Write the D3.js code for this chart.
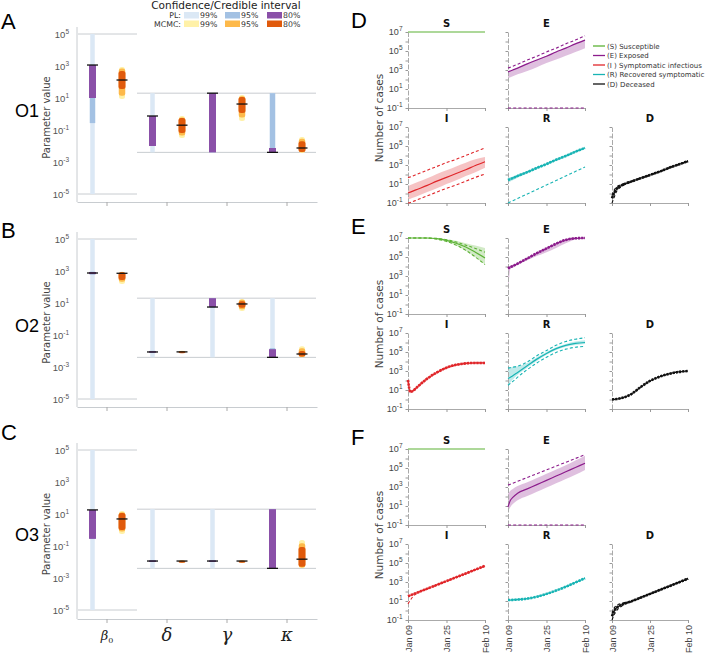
<!DOCTYPE html>
<html>
<head>
<meta charset="utf-8">
<script src="https://cdn.jsdelivr.net/npm/d3@7"></script>
<style>
body { margin: 0; background: #fff; }
svg { display: block; font-family: "DejaVu Sans", sans-serif; }
</style>
</head>
<body>
<svg id="chart" width="708" height="653"></svg>
<script>
// ---------------- parameter estimates (panels A-C) ----------------
var params = ["beta0", "delta", "gamma", "kappa"];
var boundsBeta = [1e-5, 1e5];
var boundsOther = [0.004, 20];

// O1
var o1_pl99 = [[1e-5, 1e5], [0.004, 20], [0.004, 20], [0.004, 20]];
var o1_pl95 = [[0.27, 1200], [0.01, 0.75], [0.004, 20], [0.004, 20]];
var o1_pl80 = [[10, 1150], [0.01, 0.75], [0.004, 20], [0.004, 0.0075]];
var o1_mle = [1150, 0.75, 20, 0.004];
var o1_mc99 = [[8.7, 870], [0.032, 0.75], [0.37, 15.5], [0.0037, 0.036]];
var o1_mc95 = [[14, 700], [0.045, 0.6], [0.6, 13], [0.004, 0.028]];
var o1_mc80 = [[36, 490], [0.065, 0.56], [1.15, 11.5], [0.0042, 0.02]];
var o1_med = [133, 0.2, 4.2, 0.0075];

// O2
var o2_pl99 = [[1e-5, 1e5], [0.004, 20], [0.004, 20], [0.004, 20]];
var o2_pl95 = [[600, 900], [0.0075, 0.0102], [5, 20], [0.004, 0.015]];
var o2_pl80 = [[640, 860], [0.0078, 0.0098], [5.6, 20], [0.004, 0.013]];
var o2_mle = [750, 0.0087, 5.6, 0.004];
var o2_mc99 = [[155, 900], [0.0075, 0.0105], [3.2, 18], [0.004, 0.02]];
var o2_mc95 = [[210, 870], [0.008, 0.01], [4, 16], [0.0042, 0.015]];
var o2_mc80 = [[275, 850], [0.0082, 0.0095], [5, 13], [0.0045, 0.01]];
var o2_med = [720, 0.0088, 8.7, 0.0065];

// O3
var o3_pl99 = [[1e-5, 1e5], [0.004, 20], [0.004, 20], [0.004, 20]];
var o3_pl95 = [[0.28, 18], [0.0102, 0.013], [0.0102, 0.013], [0.004, 20]];
var o3_pl80 = [[0.28, 18], [0.0105, 0.0126], [0.0105, 0.0126], [0.004, 20]];
var o3_mle = [18, 0.0115, 0.0115, 0.004];
var o3_mc99 = [[0.56, 15.5], [0.0106, 0.0124], [0.0106, 0.0124], [0.0042, 0.24]];
var o3_mc95 = [[0.8, 13], [0.0108, 0.0122], [0.0108, 0.0122], [0.0045, 0.15]];
var o3_mc80 = [[1.0, 11.5], [0.0109, 0.0121], [0.0109, 0.0121], [0.005, 0.087]];
var o3_med = [4.9, 0.0115, 0.0115, 0.015];

var yTicksParam = [1e5, 1e3, 1e1, 1e-1, 1e-3, 1e-5];

// ---------------- trajectories (panels D-F), log10 number of cases ----------------
var days = [0, 1, 2, 4, 8, 12, 16, 20, 24, 28, 32];

var o1_S_fit = [7.04, 7.04, 7.04, 7.04, 7.04, 7.04, 7.04, 7.04, 7.04, 7.03, 7.0];
var o1_E_fit = [2.8, 2.9, 3.0, 3.2, 3.65, 4.05, 4.45, 4.9, 5.3, 5.75, 6.15];
var o1_E_lo = [2.15, 2.25, 2.35, 2.55, 2.9, 3.3, 3.75, 4.1, 4.5, 4.9, 5.3];
var o1_E_hi = [2.85, 2.95, 3.05, 3.25, 3.7, 4.1, 4.5, 4.95, 5.35, 5.8, 6.2];
var o1_E_dhi = [3.2, 3.3, 3.4, 3.6, 4.05, 4.45, 4.9, 5.3, 5.75, 6.15, 6.6];
var o1_E_dlo = [-1, -1, -1, -1, -1, -1, -1, -1, -1, -1, -1];
var o1_I_fit = [0.05, 0.15, 0.25, 0.45, 0.85, 1.3, 1.7, 2.1, 2.5, 2.95, 3.35];
var o1_I_lo = [-0.65, -0.55, -0.45, -0.25, 0.15, 0.55, 1.0, 1.4, 1.85, 2.25, 2.7];
var o1_I_hi = [0.8, 0.9, 1.0, 1.2, 1.6, 2.05, 2.45, 2.85, 3.25, 3.6, 3.85];
var o1_I_dhi = [1.65, 1.75, 1.85, 2.05, 2.45, 2.85, 3.25, 3.6, 4.0, 4.4, 4.8];
var o1_I_dlo = [-1, -0.95, -0.85, -0.65, -0.25, 0.15, 0.55, 0.9, 1.3, 1.7, 2.05];
var o1_R_fit = [1.42, 1.52, 1.62, 1.85, 2.25, 2.7, 3.1, 3.55, 3.95, 4.4, 4.8];
var o1_R_lo = [1.15, 1.27, 1.4, 1.65, 2.1, 2.55, 3.0, 3.45, 3.85, 4.3, 4.72];
var o1_R_hi = [1.65, 1.72, 1.8, 2.0, 2.38, 2.8, 3.2, 3.63, 4.03, 4.47, 4.88];
var o1_R_dlo = [-1, -0.88, -0.76, -0.52, -0.05, 0.42, 0.9, 1.37, 1.85, 2.32, 2.8];
var o1_D_fit = [-0.5, 0.1, 0.5, 0.85, 1.25, 1.6, 1.95, 2.3, 2.7, 3.05, 3.4];
var o1_D_dlo = [-1, -0.35, 0.25, 0.72, 1.2, 1.56, 1.92, 2.27, 2.67, 3.02, 3.37];
var o1_D_dhi = [-0.2, 0.4, 0.7, 0.95, 1.3, 1.64, 1.98, 2.33, 2.73, 3.08, 3.43];

var o2_S_fit = [7.04, 7.04, 7.04, 7.04, 7.02, 6.93, 6.75, 6.45, 6.05, 5.5, 4.9];
var o2_S_lo = [7.04, 7.04, 7.04, 7.03, 6.98, 6.85, 6.6, 6.2, 5.65, 4.95, 4.2];
var o2_S_hi = [7.04, 7.04, 7.04, 7.04, 7.04, 6.98, 6.88, 6.7, 6.45, 6.2, 5.95];
var o2_S_dlo = [7.04, 7.04, 7.04, 7.03, 6.99, 6.87, 6.63, 6.25, 5.7, 5.0, 4.2];
var o2_S_dhi = [7.04, 7.04, 7.04, 7.04, 7.03, 6.96, 6.82, 6.58, 6.25, 5.9, 5.5];
var o2_E_fit = [3.8, 3.95, 4.05, 4.3, 4.85, 5.4, 5.9, 6.4, 6.8, 6.97, 7.0];
var o2_E_lo = [1.0, 3.75, 3.9, 4.15, 4.65, 5.1, 5.5, 5.95, 6.45, 6.85, 6.97];
var o2_E_hi = [3.85, 4.0, 4.1, 4.35, 4.9, 5.45, 5.95, 6.45, 6.85, 7.0, 7.02];
var o2_I_fit = [2.05, 0.8, 0.9, 1.35, 2.2, 2.85, 3.35, 3.65, 3.8, 3.85, 3.85];
var o2_I_lo = [0.9, 0.65, 0.78, 1.22, 2.07, 2.72, 3.22, 3.52, 3.68, 3.73, 3.73];
var o2_I_hi = [2.1, 0.95, 1.02, 1.48, 2.33, 2.98, 3.48, 3.78, 3.92, 3.97, 3.97];
var o2_R_fit = [2.2, 2.35, 2.5, 2.85, 3.55, 4.25, 4.85, 5.35, 5.7, 5.9, 6.0];
var o2_R_lo = [1.2, 1.8, 2.1, 2.6, 3.35, 4.05, 4.7, 5.2, 5.55, 5.75, 5.85];
var o2_R_hi = [3.4, 3.4, 3.45, 3.5, 3.85, 4.45, 5.0, 5.5, 5.85, 6.1, 6.25];
var o2_R_dhi = [3.3, 3.35, 3.4, 3.5, 3.95, 4.6, 5.15, 5.7, 6.1, 6.35, 6.5];
var o2_R_dlo = [1.5, 1.7, 1.9, 2.35, 3.15, 3.85, 4.45, 4.95, 5.3, 5.5, 5.6];
var o2_D_fit = [0.0, 0.02, 0.05, 0.15, 0.55, 1.3, 1.95, 2.4, 2.7, 2.9, 3.0];

var o3_S_fit = [7.04, 7.04, 7.04, 7.04, 7.04, 7.04, 7.04, 7.04, 7.04, 7.03, 7.02];
var o3_E_fit = [0.9, 1.6, 1.9, 2.35, 2.8, 3.25, 3.7, 4.15, 4.6, 5.05, 5.5];
var o3_E_lo = [0.4, 0.9, 1.2, 1.6, 2.05, 2.5, 2.95, 3.4, 3.85, 4.3, 4.8];
var o3_E_hi = [2.3, 2.6, 2.8, 3.1, 3.5, 3.95, 4.4, 4.85, 5.3, 5.8, 6.3];
var o3_E_dhi = [3.2, 3.3, 3.4, 3.6, 4.0, 4.4, 4.8, 5.2, 5.6, 6.0, 6.4];
var o3_E_dlo = [-1, -1, -1, -1, -1, -1, -1, -1, -1, -1, -1];
var o3_I_fit = [1.5, 1.6, 1.7, 1.9, 2.3, 2.7, 3.1, 3.5, 3.9, 4.3, 4.7];
var o3_I_dlo = [0.7, 1.1, 1.45, 1.85, 2.27, 2.67, 3.07, 3.47, 3.87, 4.27, 4.67];
var o3_R_fit = [1.1, 1.1, 1.12, 1.15, 1.25, 1.45, 1.75, 2.1, 2.5, 2.95, 3.4];
var o3_D_fit = [-0.6, 0.0, 0.3, 0.6, 0.95, 1.35, 1.75, 2.15, 2.55, 2.95, 3.35];
var o3_D_dlo = [-1.0, -0.4, 0.0, 0.45, 0.9, 1.32, 1.72, 2.12, 2.52, 2.92, 3.32];
var o3_D_dhi = [-0.3, 0.3, 0.55, 0.75, 1.0, 1.38, 1.78, 2.18, 2.58, 2.98, 3.38];

var compNames = ["(S) Susceptible", "(E) Exposed", "(I ) Symptomatic infectious", "(R) Recovered symptomatic", "(D) Deceased"];
var compColors = { S: "#5cb235", E: "#8c1c8c", I: "#e0262a", R: "#18b4b4", D: "#111111" };

// ---------------- drawing ----------------
var svg = d3.select("#chart");
var grey = "#c8ccd0";

function sup(sel, base, exp, size) {
  sel.text(base).append("tspan").attr("dy", -4).attr("font-size", size).text(exp);
}

// legend of intervals
svg.append("text").attr("x", 226).attr("y", 8.5).attr("text-anchor", "middle")
  .attr("font-size", 10.5).attr("fill", "#222").text("Confidence/Credible interval");
var legRows = [
  { label: "PL:", y: 12, cols: ["#dbe8f5", "#a3c1e3", "#8a50a8"] },
  { label: "MCMC:", y: 20.5, cols: ["#fff1a8", "#fdb94a", "#e05a0c"] }
];
var legPct = ["99%", "95%", "80%"];
var legX = [184, 225, 267];
legRows.forEach(function (r) {
  svg.append("text").attr("x", 181).attr("y", r.y + 6).attr("text-anchor", "end")
    .attr("font-size", 7.8).attr("fill", "#333").text(r.label);
  r.cols.forEach(function (c, i) {
    svg.append("rect").attr("x", legX[i]).attr("y", r.y).attr("width", 15).attr("height", 6.5).attr("fill", c);
    svg.append("text").attr("x", legX[i] + 16).attr("y", r.y + 6)
      .attr("font-size", 7.8).attr("fill", "#333").text(legPct[i]);
  });
});

var leftPanels = [
  { letter: "A", ly: 29, name: "O1", ny: 117, top: 34, bottom: 194, axTop: 27, axBottom: 202,
    pl: [o1_pl99, o1_pl95, o1_pl80], mle: o1_mle, mc: [o1_mc99, o1_mc95, o1_mc80], med: o1_med },
  { letter: "B", ly: 238, name: "O2", ny: 332, top: 239, bottom: 399, axTop: 232, axBottom: 407,
    pl: [o2_pl99, o2_pl95, o2_pl80], mle: o2_mle, mc: [o2_mc99, o2_mc95, o2_mc80], med: o2_med },
  { letter: "C", ly: 440, name: "O3", ny: 541, top: 450, bottom: 610, axTop: 443, axBottom: 619,
    pl: [o3_pl99, o3_pl95, o3_pl80], mle: o3_mle, mc: [o3_mc99, o3_mc95, o3_mc80], med: o3_med }
];
var plCols = ["#dbe8f5", "#a3c1e3", "#8a50a8"];
var plW = [4.5, 5.5, 7];
var mcCols = ["#fff1a8", "#fdb94a", "#e05a0c"];
var mcW = [6, 6.5, 7];

var x = d3.scaleBand().domain(params).range([77, 317]);

leftPanels.forEach(function (p, pi) {
  var y = d3.scaleLog().domain([1e-5, 1e5]).range([p.bottom, p.top]);
  var g = svg.append("g");

  g.append("text").attr("x", 1).attr("y", p.ly).attr("font-size", 22)
    .attr("font-family", "Liberation Sans, sans-serif").text(p.letter);
  g.append("text").attr("x", 15).attr("y", p.ny).attr("font-size", 18)
    .attr("font-family", "Liberation Sans, sans-serif").text(p.name);
  g.append("text").attr("transform", "translate(50," + ((p.axTop + p.axBottom) / 2 + 3) + ") rotate(-90)")
    .attr("text-anchor", "middle").attr("font-size", 10).attr("fill", "#444").text("Parameter value");

  // bound lines
  var xMid = x("beta0") + x.bandwidth();
  [boundsBeta[0], boundsBeta[1]].forEach(function (b) {
    g.append("line").attr("x1", 78).attr("x2", xMid).attr("y1", y(b)).attr("y2", y(b))
      .attr("stroke", grey).attr("stroke-width", 1);
  });
  [boundsOther[0], boundsOther[1]].forEach(function (b) {
    g.append("line").attr("x1", xMid).attr("x2", 316).attr("y1", y(b)).attr("y2", y(b))
      .attr("stroke", grey).attr("stroke-width", 1);
  });

  // axes
  var ya = g.append("g").attr("transform", "translate(77,0)")
    .call(d3.axisLeft(y).tickValues(yTicksParam).tickSize(0).tickPadding(8));
  ya.select(".domain").remove();
  ya.selectAll("text").attr("font-size", 9.5).attr("fill", "#555")
    .each(function (d) { sup(d3.select(this), "10", Math.round(Math.log10(d)), 6.5); });
  g.append("line").attr("x1", 77).attr("x2", 77).attr("y1", p.axTop).attr("y2", p.axBottom)
    .attr("stroke", grey);
  var xa = g.append("g").attr("transform", "translate(0," + p.axBottom + ")")
    .call(d3.axisBottom(x).tickSize(4).tickSizeOuter(0).tickFormat(""));
  xa.select(".domain").attr("stroke", grey);
  xa.selectAll("line").attr("stroke", "#aaa");

  params.forEach(function (k, i) {
    var cx = x(k) + x.bandwidth() / 2;
    var px = cx - 14.5, mx = cx + 15;
    p.pl.forEach(function (lvl, j) {
      var r = lvl[i];
      g.append("rect").attr("x", px - plW[j] / 2).attr("width", plW[j])
        .attr("y", y(r[1])).attr("height", Math.max(1.5, y(r[0]) - y(r[1])))
        .attr("fill", plCols[j]);
    });
    g.append("line").attr("x1", px - 5.5).attr("x2", px + 5.5)
      .attr("y1", y(p.mle[i])).attr("y2", y(p.mle[i])).attr("stroke", "#111").attr("stroke-width", 1.3);
    p.mc.forEach(function (lvl, j) {
      var r = lvl[i];
      g.append("rect").attr("x", mx - mcW[j] / 2).attr("width", mcW[j])
        .attr("y", y(r[1])).attr("height", Math.max(2, y(r[0]) - y(r[1])))
        .attr("rx", 2.5).attr("fill", mcCols[j]);
    });
    g.append("line").attr("x1", mx - 5.5).attr("x2", mx + 5.5)
      .attr("y1", y(p.med[i])).attr("y2", y(p.med[i])).attr("stroke", "#111").attr("stroke-width", 1.3);
  });

  if (pi === 2) {
    var lab = g.append("g").attr("font-family", "DejaVu Serif, serif").attr("font-style", "italic").attr("fill", "#222");
    var ly = p.axBottom + 22;
    var b = lab.append("text").attr("x", x("beta0") + x.bandwidth() / 2).attr("y", ly - 1)
      .attr("text-anchor", "middle").attr("font-size", 13).text("β");
    b.append("tspan").attr("dy", 3).attr("font-size", 8).attr("font-style", "normal").text("0");
    lab.append("text").attr("x", x("delta") + x.bandwidth() / 2).attr("y", ly).attr("text-anchor", "middle")
      .attr("font-size", 18).text("δ");
    lab.append("text").attr("x", x("gamma") + x.bandwidth() / 2).attr("y", ly).attr("text-anchor", "middle")
      .attr("font-size", 18).text("γ");
    lab.append("text").attr("x", x("kappa") + x.bandwidth() / 2).attr("y", ly).attr("text-anchor", "middle")
      .attr("font-size", 18).text("κ");
  }
});

// ---------------- trajectories ----------------
var t0 = new Date(2020, 0, 9);
var dates = days.map(function (d) { return d3.timeDay.offset(t0, d); });
var timeTicks = [new Date(2020, 0, 9), new Date(2020, 0, 25), new Date(2020, 1, 10)];
var caseTicks = [1e-1, 1, 1e1, 1e2, 1e3, 1e4, 1e5, 1e6, 1e7];

var o1 = {
  S: { fit: o1_S_fit },
  E: { fit: o1_E_fit, lo: o1_E_lo, hi: o1_E_hi, dlo: o1_E_dlo, dhi: o1_E_dhi },
  I: { fit: o1_I_fit, lo: o1_I_lo, hi: o1_I_hi, dlo: o1_I_dlo, dhi: o1_I_dhi },
  R: { fit: o1_R_fit, lo: o1_R_lo, hi: o1_R_hi, dlo: o1_R_dlo, obs: true },
  D: { fit: o1_D_fit, dlo: o1_D_dlo, dhi: o1_D_dhi, obs: true }
};
var o2 = {
  S: { fit: o2_S_fit, lo: o2_S_lo, hi: o2_S_hi, dlo: o2_S_dlo, dhi: o2_S_dhi },
  E: { fit: o2_E_fit, lo: o2_E_lo, hi: o2_E_hi, obs: true },
  I: { fit: o2_I_fit, lo: o2_I_lo, hi: o2_I_hi, obs: true },
  R: { fit: o2_R_fit, lo: o2_R_lo, hi: o2_R_hi, dlo: o2_R_dlo, dhi: o2_R_dhi },
  D: { fit: o2_D_fit, obs: true }
};
var o3 = {
  S: { fit: o3_S_fit },
  E: { fit: o3_E_fit, lo: o3_E_lo, hi: o3_E_hi, dlo: o3_E_dlo, dhi: o3_E_dhi },
  I: { fit: o3_I_fit, dlo: o3_I_dlo, obs: true },
  R: { fit: o3_R_fit, obs: true },
  D: { fit: o3_D_fit, dlo: o3_D_dlo, dhi: o3_D_dhi, obs: true }
};

var blocks = [
  { letter: "D", top: 32, data: o1, legend: true, xlabels: false },
  { letter: "E", top: 238, data: o2, legend: false, xlabels: false },
  { letter: "F", top: 449, data: o3, legend: false, xlabels: true }
];
var cols = [[408, 485], [508, 585], [612, 688]];
var layout = { S: [0, 0], E: [1, 0], I: [0, 1], R: [1, 1], D: [2, 1] };

blocks.forEach(function (bk) {
  var g = svg.append("g");
  g.append("text").attr("x", 351).attr("y", bk.top - 4).attr("font-size", 22)
    .attr("font-family", "Liberation Sans, sans-serif").text(bk.letter);
  g.append("text").attr("transform", "translate(383," + (bk.top + 86) + ") rotate(-90)")
    .attr("text-anchor", "middle").attr("font-size", 10.5).attr("fill", "#444").text("Number of cases");

  ["S", "E", "I", "R", "D"].forEach(function (c) {
    var col = cols[layout[c][0]], row = layout[c][1];
    var top = bk.top + row * 95, bottom = top + 76;
    var xs = d3.scaleTime().domain([t0, timeTicks[2]]).range(col);
    var ys = d3.scaleLog().domain([0.1, 1e7]).range([bottom, top]).clamp(true);
    var s = bk.data[c];
    var color = compColors[c];
    var pg = g.append("g");

    pg.append("text").attr("x", (col[0] + col[1]) / 2).attr("y", top - 5).attr("text-anchor", "middle")
      .attr("font-size", 10).attr("font-weight", "bold").attr("fill", "#111").text(c);

    var idx = d3.range(days.length);
    var px = function (i) { return xs(dates[i]); };
    var lineOf = function (arr) {
      return d3.line().x(px).y(function (i) { return ys(Math.pow(10, arr[i])); }).curve(d3.curveMonotoneX)(idx);
    };

    if (s.lo) {
      pg.append("path").attr("d", d3.area().x(px)
        .y0(function (i) { return ys(Math.pow(10, s.lo[i])); })
        .y1(function (i) { return ys(Math.pow(10, s.hi[i])); })
        .curve(d3.curveMonotoneX)(idx))
        .attr("fill", color).attr("fill-opacity", 0.28);
    }

    // axes
    var ya = pg.append("g").attr("transform", "translate(" + col[0] + ",0)")
      .call(d3.axisLeft(ys).tickValues(caseTicks).tickSize(2.5).tickSizeOuter(0).tickPadding(3));
    ya.select(".domain").attr("stroke", "#aaa").attr("stroke-dasharray", "5,1.5");
    ya.selectAll(".tick line").attr("stroke", "#999");
    if (layout[c][0] === 0) {
      ya.selectAll("text").attr("font-size", 9).attr("fill", "#444")
        .each(function (d) {
          var e = Math.round(Math.log10(d));
          if (e % 2 === 0) { d3.select(this).text(""); return; }
          sup(d3.select(this), "10", e, 6.5);
        });
    } else {
      ya.selectAll("text").remove();
    }
    var xa = pg.append("g").attr("transform", "translate(0," + bottom + ")")
      .call(d3.axisBottom(xs).tickValues(timeTicks).tickSize(3).tickSizeOuter(0)
        .tickFormat(d3.timeFormat("%b %d")));
    xa.select(".domain").attr("stroke", "#aaa");
    xa.selectAll(".tick line").attr("stroke", "#999");
    if (bk.xlabels && row === 1) {
      xa.selectAll("text").attr("font-size", 9).attr("fill", "#444")
        .attr("transform", "rotate(-90)").attr("text-anchor", "end")
        .attr("x", -5).attr("y", 0).attr("dy", "0.35em");
    } else {
      xa.selectAll("text").remove();
    }

    ["dlo", "dhi"].forEach(function (k) {
      if (!s[k]) return;
      pg.append("path").attr("d", lineOf(s[k])).attr("fill", "none")
        .attr("stroke", color).attr("stroke-width", 1.1).attr("stroke-dasharray", "3,2.2");
    });
    pg.append("path").attr("d", lineOf(s.fit)).attr("fill", "none")
      .attr("stroke", color).attr("stroke-width", 1.2);
    if (s.obs) {
      pg.append("path").attr("d", lineOf(s.fit)).attr("fill", "none")
        .attr("stroke", color).attr("stroke-width", 2.6).attr("stroke-dasharray", "2.2,1");
    }
  });

  if (bk.legend) {
    var lg = g.append("g");
    ["S", "E", "I", "R", "D"].forEach(function (c, i) {
      var yy = 46 + i * 9.5;
      lg.append("line").attr("x1", 593).attr("x2", 605).attr("y1", yy).attr("y2", yy)
        .attr("stroke", compColors[c]).attr("stroke-width", 1.3);
      lg.append("text").attr("x", 607).attr("y", yy + 2.6).attr("font-size", 7).attr("fill", "#333")
        .text(compNames[i]);
    });
  }
});
</script>
</body>
</html>
